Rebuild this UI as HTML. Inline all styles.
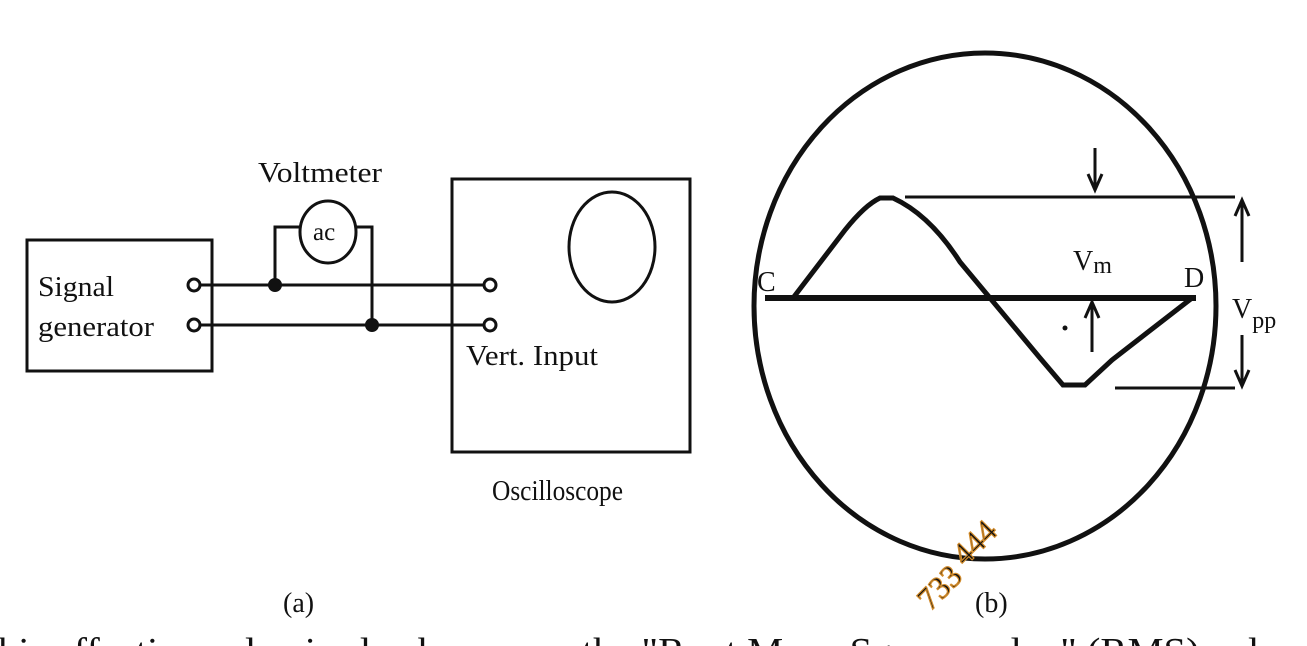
<!DOCTYPE html>
<html><head><meta charset="utf-8"><style>
html,body{margin:0;padding:0;background:#fff;}
svg{display:block}
text{font-family:"Liberation Serif",serif;fill:#111}
</style></head><body>
<svg width="1307" height="646" viewBox="0 0 1307 646">
<g stroke="#111" fill="none" stroke-width="3">
<rect x="27" y="240" width="185" height="131"/>
<circle cx="194" cy="285" r="6"/>
<circle cx="194" cy="325" r="6"/>
<line x1="200" y1="285" x2="484" y2="285"/>
<line x1="200" y1="325" x2="484" y2="325"/>
<circle cx="490" cy="285" r="6"/>
<circle cx="490" cy="325" r="6"/>
<ellipse cx="328" cy="232" rx="28" ry="31"/>
<polyline points="300,227 275,227 275,285"/>
<polyline points="356,227 372,227 372,325"/>
<rect x="452" y="179" width="238" height="273"/>
<ellipse cx="612" cy="247" rx="43" ry="55"/>
<ellipse cx="985" cy="306" rx="231" ry="253" stroke-width="5"/>
<line x1="765" y1="298" x2="1196" y2="298" stroke-width="6"/>
<path d="M793,298 L845,230 Q865,205 880,198 L893,198 Q930,215 960,262 L990,298 L1040,358 L1063,385 L1085,385 L1112,360 L1192,298" stroke-width="5"/>
<line x1="905" y1="197" x2="1235" y2="197" stroke-width="3"/>
<line x1="1115" y1="388" x2="1235" y2="388" stroke-width="3"/>
<g><line x1="1095" y1="148" x2="1095" y2="188"/><path d="M1088,174 L1095,190 L1102,174"/></g>
<g><line x1="1092" y1="352" x2="1092" y2="304"/><path d="M1085,318 L1092,302 L1099,318"/></g>
<g><line x1="1242" y1="262" x2="1242" y2="202"/><path d="M1235,216 L1242,200 L1249,216"/></g>
<g><line x1="1242" y1="335" x2="1242" y2="384"/><path d="M1235,370 L1242,386 L1249,370"/></g>
</g>
<circle cx="275" cy="285" r="7" fill="#111"/>
<circle cx="372" cy="325" r="7" fill="#111"/>
<circle cx="1065" cy="328" r="2.5" fill="#111"/>
<g font-size="28">
<text x="38" y="296" textLength="76" lengthAdjust="spacingAndGlyphs">Signal</text>
<text x="38" y="336" textLength="116" lengthAdjust="spacingAndGlyphs">generator</text>
<text x="258" y="182" textLength="124" lengthAdjust="spacingAndGlyphs">Voltmeter</text>
<text x="313" y="240" font-size="25">ac</text>
<text x="466" y="365" textLength="132" lengthAdjust="spacingAndGlyphs">Vert. Input</text>
<text x="492" y="500" textLength="131" lengthAdjust="spacingAndGlyphs">Oscilloscope</text>
<text x="283" y="612">(a)</text>
<text x="975" y="612">(b)</text>
<text x="757" y="291">C</text>
<text x="1184" y="287">D</text>
<text x="1073" y="270">V<tspan font-size="24" dy="3">m</tspan></text>
<text x="1232" y="318">V<tspan font-size="24" dy="10">pp</tspan></text>
</g>
<text x="-2" y="664" font-size="38" textLength="1330" lengthAdjust="spacingAndGlyphs" fill="#111">his effective value is also known as the "Root Mean Square value" (RMS) value o</text>
<g fill="none" stroke="#d08a2a" stroke-width="1.2" font-size="32" style="font-family:'Liberation Sans',sans-serif">
<text x="930" y="612" fill="none" stroke="#d08a2a" transform="rotate(-45 930 612)">733</text>
<text x="965" y="567" fill="none" stroke="#d08a2a" transform="rotate(-45 965 567)">444</text>
</g>
</svg>
</body></html>
